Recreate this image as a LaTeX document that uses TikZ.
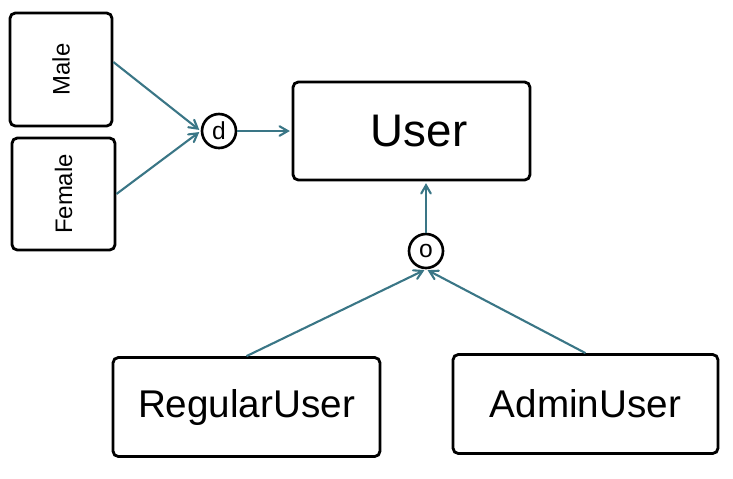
\documentclass[tikz,border=0pt]{standalone}
\usepackage{fontspec}
\setmainfont{Liberation Sans}
\usetikzlibrary{arrows}
\definecolor{linkcol}{RGB}{58,118,134}

\begin{document}
\begin{tikzpicture}[x=0.02cm,y=-0.02cm,->,>=angle 60,shorten >=1pt,
			link/.style={draw=linkcol,line width=1.2pt},
			class node/.style={rectangle,draw,rounded corners=3pt,line width=1.6pt,inner sep=0pt},
			disc node/.style={circle,draw,line width=1.5pt,minimum size=0.68cm,inner sep=0pt,font=\fontsize{14}{16}\selectfont}]
			\useasboundingbox (0,0) rectangle (733,478);
			\node[class node,minimum width=2.04cm,minimum height=2.26cm,font=\fontsize{13.6}{16}\selectfont] (male) at (61,69.5) {\rotatebox{90}{Male}};
			\node[class node,minimum width=2.06cm,minimum height=2.24cm,font=\fontsize{13.6}{16}\selectfont] (female) at (63.5,194) {\rotatebox{90}{Female}};
			\node[class node,minimum width=4.74cm,minimum height=1.96cm,font=\fontsize{26}{30}\selectfont] (user) at (411.5,131) {\hspace*{0.3cm}User};
			\node[disc node] (d) at (219,131) {d};
			\node[disc node] (o) at (426,251) {o};
			\node[class node,minimum width=5.34cm,minimum height=1.98cm,font=\fontsize{22}{26}\selectfont] (regular) at (246.5,407) {RegularUser};
			\node[class node,minimum width=5.30cm,minimum height=1.98cm,font=\fontsize{22}{26}\selectfont] (admin) at (585.5,404) {AdminUser};
			\path
			([yshift=0.15cm]male.east) edge [link] (d.west);
			\path
			(female.east) edge [link] (d.west);
			\path
			(d) edge [link] (user);
			\path
			(o) edge [link] (o |- user.south);
			\path
			(regular.north) edge [link] (o.south);
			\path
			(admin.north) edge [link] (o.south);
\end{tikzpicture}
\end{document}
